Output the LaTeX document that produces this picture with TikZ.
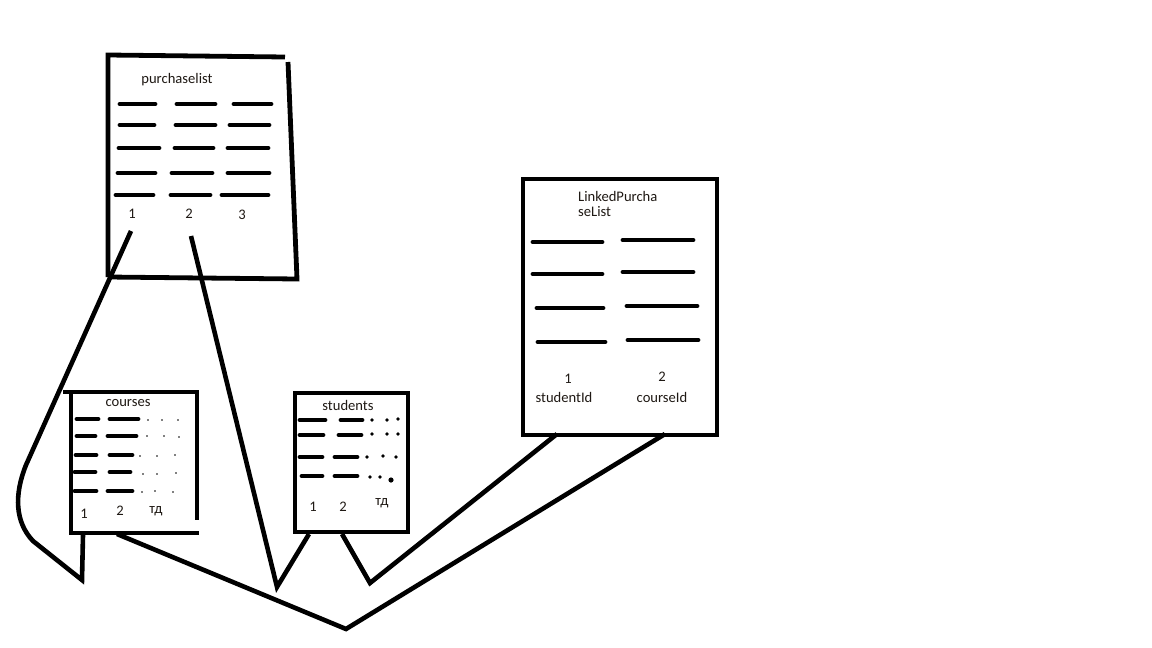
\documentclass[tikz,border=0pt]{standalone}
\usepackage{fontspec}
\setmainfont{Carlito}
\usepackage{tikz}
\usetikzlibrary{positioning}
\definecolor{txt}{rgb}{0.12,0.10,0.08}

\begin{document}
\begin{tikzpicture}[x=1pt,y=-1pt,
  box/.style={line width=4.8pt,line join=miter},
  bar/.style={line width=4.8pt,line cap=round},
  wire/.style={line width=4.6pt,line join=miter},
  lbl/.style={inner sep=0pt,text=txt,font=\fontsize{14.6}{17.5}\selectfont},
  dot/.style={fill=black}]
  \useasboundingbox[fill=white] (0,0) rectangle (1152,648);

  % purchaselist
  \draw[box] (108,277) -- (108,55) -- (285,57);
  \draw[box] (288,62) -- (297,279) -- (108,277);
  \node[lbl] (plTitle) at (177,80) {purchaselist};
  \foreach \y/\a/\b/\c/\d/\e/\f in {104/120/155/177/215/234/271,
      125/120/154/176/215/230/269, 148/119/159/175/213/228/268,
      173/118/155/172/212/228/269, 195/116/153/171/210/222/268}
    {\draw[bar] (\a,\y) -- (\b,\y);
     \draw[bar] (\c,\y) -- (\d,\y);
     \draw[bar] (\e,\y) -- (\f,\y);}
  \node[lbl] (plA) at (132,214) {1};
  \node[lbl] (plB) at (189,214) {2};
  \node[lbl] (plC) at (242,215) {3};

  % courses
  \draw[box] (63,392) -- (197,392) -- (197,520);
  \draw[box] (71,392) -- (71,533) -- (199,533);
  \node[lbl] (crTitle) at (128,403) {courses};
  \foreach \y/\a/\b/\c/\d in {419/77/98/110/138, 436/77/95/108/136,
      455/76/96/110/132, 472/75/95/110/130, 491/75/96/108/132}
    {\draw[bar] (\a,\y) -- (\b,\y);
     \draw[bar] (\c,\y) -- (\d,\y);}
  \foreach \x/\y in {148/420,162/420,178/420, 147/436,164/436,179/437,
      140/456,157/456,175/455, 143/474,157/474,176/473,
      142/492,155/491,173/492}
    \fill[dot] (\x,\y) circle (0.9);
  \node[lbl] (crA) at (84,514) {1};
  \node[lbl] (crB) at (120,511) {2};
  \node[lbl] (crC) at (156,511) {тд};

  % students
  \draw[box] (295,393) -- (408,393) -- (408,532) -- (295,532) -- cycle;
  \node[lbl] (stTitle) at (348,405) {students};
  \foreach \y/\a/\b/\c/\d in {420/300/325/341/362, 435/300/323/339/361,
      457/300/322/335/357, 476/302/322/335/357}
    {\draw[bar] (\a,\y) -- (\b,\y);
     \draw[bar] (\c,\y) -- (\d,\y);}
  \foreach \x/\y in {372/420,387/420,398/419, 372/434,387/434,398/434,
      367/457,383/456,396/457, 370/477,380/477}
    \fill[dot] (\x,\y) circle (1.8);
  \fill[dot] (391,480) circle (2.6);
  \node[lbl] (stA) at (313,507) {1};
  \node[lbl] (stB) at (343,507) {2};
  \node[lbl] (stC) at (382,503) {тд};

  % LinkedPurchaseList
  \draw[box] (523,179) -- (717,179) -- (717,435) -- (523,435) -- cycle;
  \node[lbl,anchor=west] (lpTitle) at (578,196) {LinkedPurcha};
  \node[lbl,below=5pt of lpTitle.south west,anchor=north west] (lpTitleB) {seList};
  \foreach \a/\b/\y/\c/\d/\z in {533/602/242/623/693/240,
      533/602/274/623/693/272, 537/603/308/627/697/306,
      538/605/342/628/698/340}
    {\draw[bar] (\a,\y) -- (\b,\y);
     \draw[bar] (\c,\z) -- (\d,\z);}
  \node[lbl] (lpA) at (568,379) {1};
  \node[lbl] (lpAname) at (564,397) {studentId};
  \node[lbl] (lpB) at (662,377) {2};
  \node[lbl] (lpBname) at (662,397) {courseId};

  % links
  \coordinate (kinkA) at (82,580);
  \coordinate (kinkB) at (277,587);
  \coordinate (kinkC) at (370,583);
  \coordinate (kinkD) at (346,629);
  \draw[wire] (131,231) -- (26,465) .. controls (14,495) and (15,522) .. (33,541)
    -- (kinkA) -- (83,535);
  \draw[wire] (191,236) -- (kinkB) -- (309,534);
  \draw[wire] (342,534) -- (kinkC) -- (557,434);
  \draw[wire] (117,534) -- (kinkD) -- (665,434);
\end{tikzpicture}
\end{document}
